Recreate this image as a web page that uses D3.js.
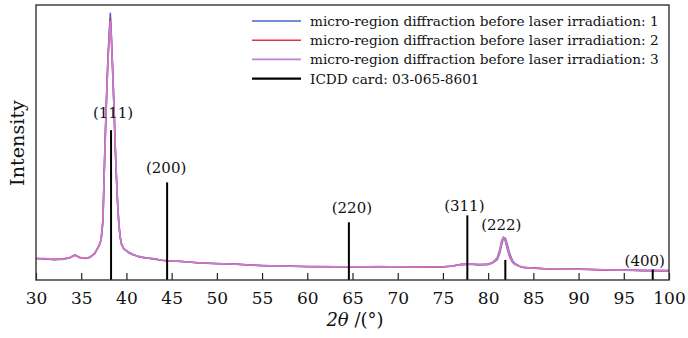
<!DOCTYPE html>
<html>
<head>
<meta charset="utf-8">
<script src="https://cdn.jsdelivr.net/npm/d3@7"></script>
<style>
  html, body { margin: 0; padding: 0; background: #fff; }
  svg text { font-family: "DejaVu Serif", "Liberation Serif", serif; fill: #111; }
</style>
</head>
<body>
<div id="chart"></div>
<script>
// 2theta sampling grid (deg), shared by the three measured patterns
const twoTheta = [
  30, 31, 32, 33, 33.7, 34.3, 34.8, 35.5, 36, 36.5,
  37, 37.2, 37.4, 37.5, 37.6, 37.77, 37.95, 38.1, 38.22, 38.35,
  38.5, 38.63, 38.75, 38.88, 39, 39.15, 39.3, 39.45, 39.7, 40.2,
  40.7, 41.3, 42, 43, 44, 45, 46, 48, 50, 52,
  55, 58, 60, 62, 65, 68, 70, 72, 75, 76,
  77, 78, 79, 80, 80.5, 81, 81.3, 81.5, 81.7, 81.9,
  82.1, 82.4, 82.7, 83, 83.5, 84, 85, 87, 90, 93,
  95, 97, 100
];

// intensity (arb. units, 0-100)
const region1 = [
  7.9, 7.6, 7.5, 7.6, 8.0, 9.2, 8.2, 7.9, 8.3, 9.8,
  12.5, 14.5, 21, 33, 45, 63, 80, 90, 97, 88,
  75, 63, 50, 39, 30, 21, 16, 13, 11.5, 10,
  9.2, 8.6, 8.2, 7.6, 7.2, 6.9, 6.7, 6.3, 6.0, 5.7,
  5.3, 5.0, 4.9, 4.8, 4.8, 4.8, 4.8, 4.7, 4.8, 5.1,
  5.6, 5.8, 5.6, 5.6, 6.2, 7.4, 10.0, 13.0, 15.4, 15.2,
  13.0, 9.4, 7.0, 5.9, 5.0, 4.6, 4.3, 4.0, 3.9, 3.7,
  3.6, 3.5, 3.4
];
const region2 = [
  7.7, 7.8, 7.4, 7.7, 8.1, 9.0, 8.3, 7.8, 8.4, 9.6,
  12.8, 14.8, 22, 34, 46, 64, 80, 89, 95, 86,
  74, 62, 49, 38, 29, 21, 15.5, 13.2, 11.3, 10.2,
  9.4, 8.5, 8.0, 7.8, 7.1, 6.8, 6.8, 6.2, 5.9, 5.8,
  5.2, 5.1, 4.8, 4.9, 4.7, 4.9, 4.7, 4.8, 4.7, 5.0,
  5.7, 5.7, 5.5, 5.8, 6.4, 8.0, 11.2, 14.3, 15.6, 14.2,
  11.5, 8.2, 6.4, 5.6, 4.9, 4.5, 4.4, 3.9, 4.0, 3.6,
  3.7, 3.4, 3.3
];
const region3 = [
  7.8, 7.7, 7.5, 7.5, 8.0, 9.1, 8.1, 8.0, 8.2, 9.7,
  12.6, 14.6, 21.5, 33.5, 45, 63, 79, 88, 94, 87,
  74, 62.5, 50, 38.5, 29.5, 21, 15.8, 13, 11.4, 10.1,
  9.3, 8.6, 8.1, 7.7, 7.2, 6.9, 6.7, 6.3, 6.0, 5.7,
  5.3, 5.0, 4.9, 4.8, 4.8, 4.8, 4.8, 4.7, 4.8, 5.1,
  5.6, 5.8, 5.6, 5.7, 6.3, 7.8, 10.8, 14.0, 15.5, 14.6,
  12.2, 8.7, 6.6, 5.7, 5.0, 4.6, 4.3, 4.0, 3.9, 3.7,
  3.6, 3.5, 3.4
];

// ICDD card 03-065-8601 reference lines
const cardPos = [38.3, 44.5, 64.6, 77.7, 81.9, 98.2];
const cardInt = [54.5, 35.5, 21, 23.5, 7.3, 3.8];
const cardHkl = ['(111)', '(200)', '(220)', '(311)', '(222)', '(400)'];

const seriesNames = [
  'micro-region diffraction before laser irradiation: 1',
  'micro-region diffraction before laser irradiation: 2',
  'micro-region diffraction before laser irradiation: 3',
  'ICDD card: 03-065-8601'
];
const xTicks = [30, 35, 40, 45, 50, 55, 60, 65, 70, 75, 80, 85, 90, 95, 100];

const width = 688, height = 338;
const margin = { top: 5, right: 19, bottom: 58, left: 36 };

const svg = d3.select('#chart').append('svg')
  .attr('width', width)
  .attr('height', height);

const x = d3.scaleLinear().domain([30, 100]).range([margin.left, width - margin.right]);
const y = d3.scaleLinear().domain([0, 100]).range([height - margin.bottom, margin.top]);

// shrink/grow a text so that it spans the width seen in the reference
function fitWidth(sel, target) {
  const node = sel.node();
  const fs = parseFloat(sel.attr('font-size'));
  const w = node.getComputedTextLength();
  if (w > 0) sel.attr('font-size', (fs * target / w).toFixed(2));
}

// measured patterns
const colors = ['#4466cc', '#e8343a', '#c47fd6'];
const line = d3.line()
  .x((d, i) => x(twoTheta[i]))
  .y(d => y(d));

[region1, region2, region3].forEach((vals, k) => {
  svg.append('path')
    .attr('d', line(vals))
    .attr('fill', 'none')
    .attr('stroke', colors[k])
    .attr('stroke-width', 1.6)
    .attr('stroke-linejoin', 'round');
});

// reference sticks
svg.selectAll('.stick')
  .data(cardPos)
  .enter()
  .append('line')
  .attr('class', 'stick')
  .attr('x1', d => x(d))
  .attr('x2', d => x(d))
  .attr('y1', y(0))
  .attr('y2', (d, i) => y(cardInt[i]))
  .attr('stroke', '#000')
  .attr('stroke-width', 2);

// label nudges in px, relative to the stick top
const labelShift = [[2, -12], [-1, -9], [3, -9], [-3, -4], [-4, -30], [-8, -4]];
svg.selectAll('.hkl')
  .data(cardHkl)
  .enter()
  .append('text')
  .attr('class', 'hkl')
  .attr('x', (d, i) => x(cardPos[i]) + labelShift[i][0])
  .attr('y', (d, i) => y(cardInt[i]) + labelShift[i][1])
  .attr('text-anchor', 'middle')
  .attr('font-size', 15)
  .text(d => d);

// x axis: ticks point inward
const xAxis = d3.axisBottom(x).tickValues(xTicks).tickSize(0).tickPadding(0);
const gx = svg.append('g')
  .attr('transform', `translate(0,${y(0)})`)
  .call(xAxis);
gx.attr('font-family', null);
gx.select('.domain').remove();
gx.selectAll('.tick text')
  .attr('y', 24)
  .attr('dy', 0)
  .attr('font-size', 17)
  .attr('fill', '#111');
gx.selectAll('.tick line')
  .attr('y2', -7)
  .attr('stroke', '#222')
  .attr('stroke-width', 1.2);

// frame
svg.append('rect')
  .attr('x', margin.left)
  .attr('y', margin.top)
  .attr('width', width - margin.left - margin.right)
  .attr('height', height - margin.top - margin.bottom)
  .attr('fill', 'none')
  .attr('stroke', '#333')
  .attr('stroke-width', 1.4);

// axis titles
const xTitle = svg.append('text')
  .attr('x', 355)
  .attr('y', 326)
  .attr('text-anchor', 'middle')
  .attr('font-size', 18);
xTitle.append('tspan').attr('font-style', 'italic').text('2θ');
xTitle.append('tspan').text(' /(°)');

const yTitle = svg.append('text')
  .attr('transform', 'translate(24,143) rotate(-90)')
  .attr('text-anchor', 'middle')
  .attr('font-size', 20)
  .text('Intensity');
fitWidth(yTitle, 86);

// legend
const legend = svg.append('g').attr('transform', 'translate(252,21)');
const legendItems = legend.selectAll('.legend-item')
  .data(seriesNames)
  .enter()
  .append('g')
  .attr('class', 'legend-item')
  .attr('transform', (d, i) => `translate(0,${i * 19.2})`);

legendItems.append('line')
  .attr('x1', 0)
  .attr('x2', 49)
  .attr('stroke', (d, i) => i < 3 ? colors[i] : '#000')
  .attr('stroke-width', (d, i) => i < 3 ? 1.6 : 2.4);

const legendText = legendItems.append('text')
  .attr('x', 58)
  .attr('y', 5)
  .attr('font-size', 15)
  .text(d => d);

// one size for all rows, taken from the longest one
const firstRow = d3.select(legendText.nodes()[0]);
fitWidth(firstRow, 349);
legendText.attr('font-size', firstRow.attr('font-size'));
</script>
</body>
</html>
